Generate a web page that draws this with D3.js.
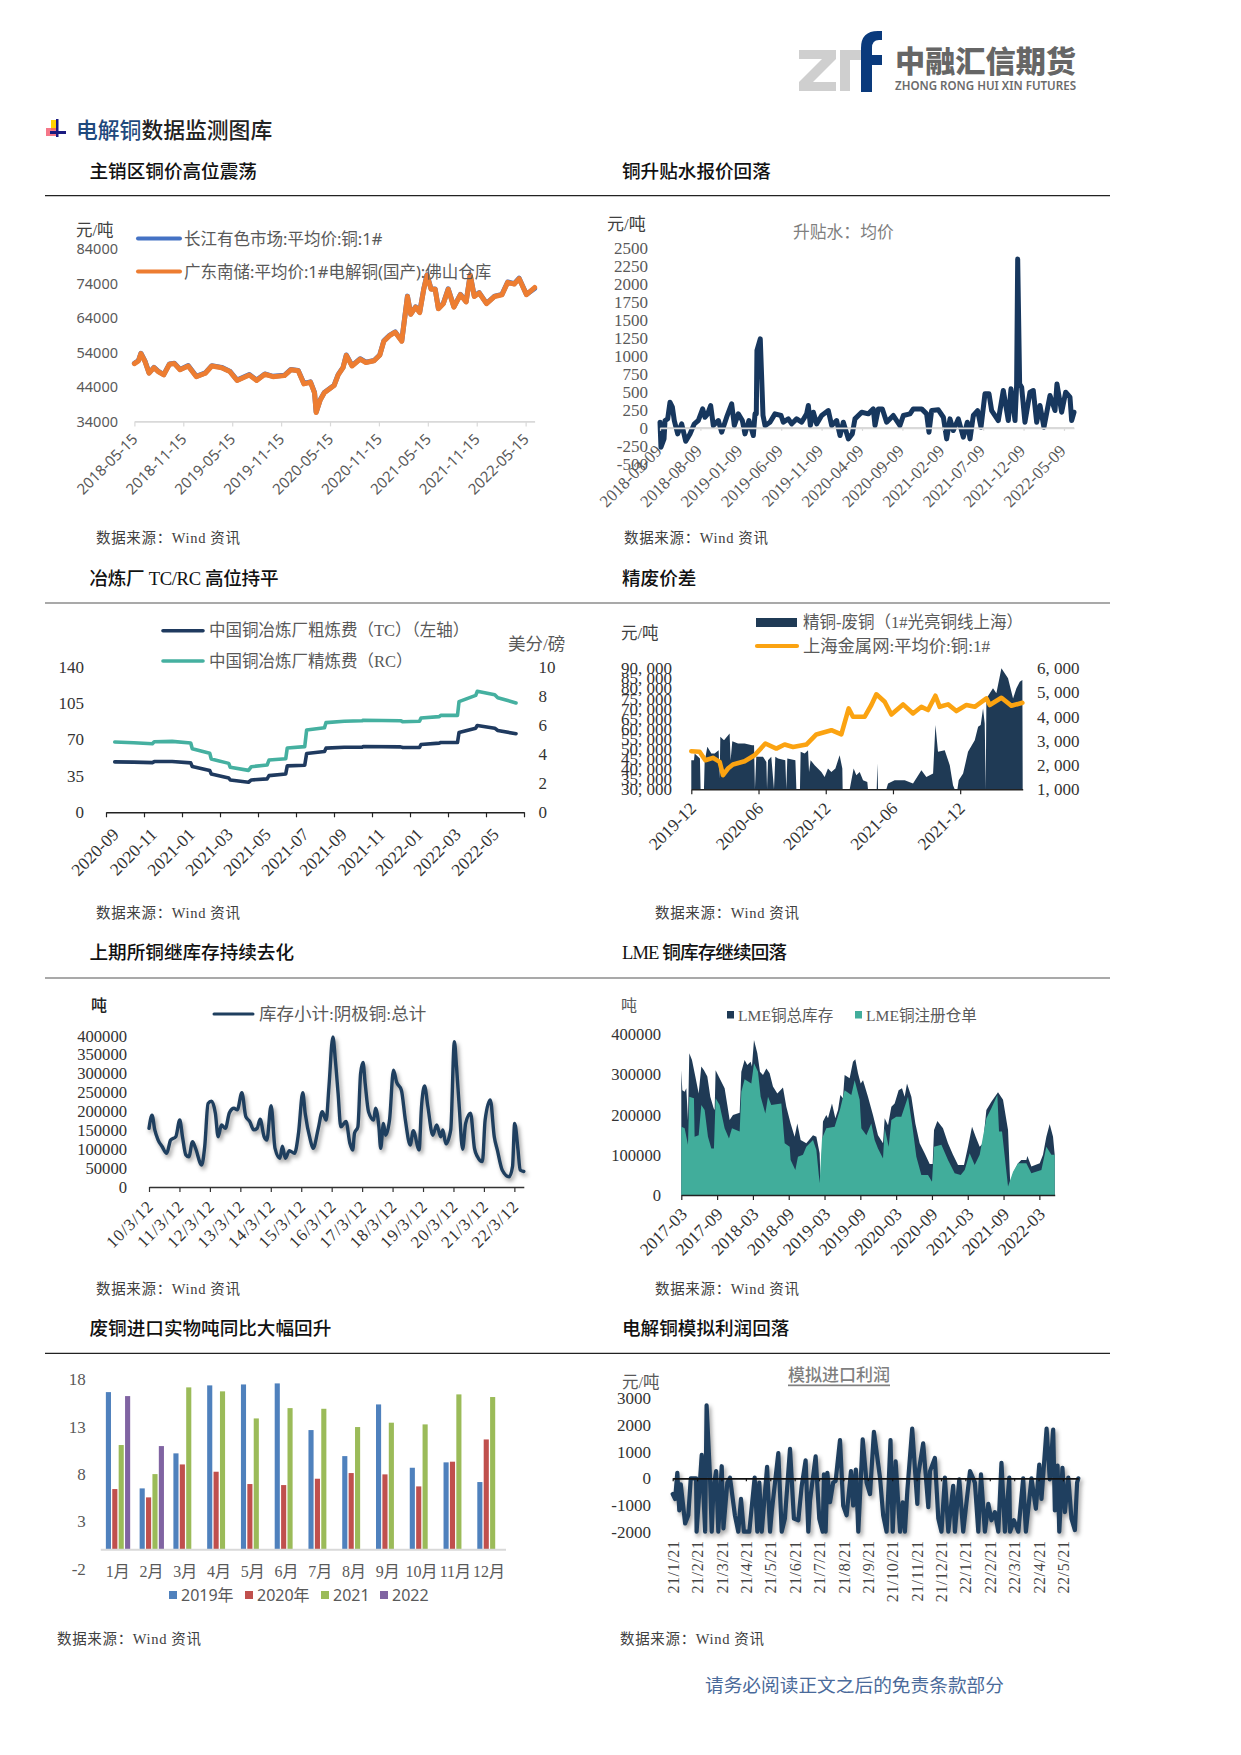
<!DOCTYPE html>
<html><head><meta charset="utf-8">
<script src="https://cdn.jsdelivr.net/npm/d3@7"></script>
<style>
html,body{margin:0;padding:0;background:#fff}
svg{display:block}
text{font-family:"Liberation Serif","Noto Sans CJK SC",serif}
text.sans{font-family:"Noto Sans","Noto Sans CJK SC",sans-serif}
.shadow{filter:drop-shadow(2px 3px 2px rgba(0,0,0,.38))}
</style></head><body>
<div id="chart"></div>
<script>
// ---------- Chart 1 ----------
const priceMonths=[0,.5,.8,1.3,1.8,2.4,2.9,3.6,4.3,4.9,5.6,6.6,7.6,8.7,9.5,10.7,11.7,12.6,14.1,15,16,17,18.4,19.2,20.1,20.8,21.6,22.1,22.3,22.8,23.3,24.5,25,25.6,26,26.7,27.7,28.4,29.4,30.1,30.6,31.3,32,32.8,33.5,33.9,34.5,35,35.5,35.9,36.4,36.9,37.3,37.9,38.5,39.2,40,40.7,41.2,41.7,42.3,43.2,44.2,45.1,45.8,46.6,47.2,48.1,49.1];
const priceGuangdong=[50800,51600,53700,51400,48000,49600,48500,47500,50600,50800,49000,50100,47000,48000,50100,49600,48500,45900,47500,45900,47700,47000,47300,49000,48700,44900,45400,42300,36600,40200,42300,44400,47500,49600,53200,50100,52100,51100,51600,53200,57300,58900,59900,57300,70300,65100,67200,65600,72400,76500,72400,72400,66700,68200,72400,67200,70800,68700,76500,70300,71300,68200,70300,70800,74400,73900,75500,70800,72900];
const priceChangjiang=[50900,51700,53800,51500,48100,49700,48600,47600,50700,50900,49100,50200,47100,48100,50200,49700,48600,46000,47600,46000,47800,47100,47400,49100,48800,45000,45500,42400,36700,40300,42400,44500,47600,49700,53300,50200,52200,51200,51700,53300,57400,59000,60000,57400,70400,65200,67300,65700,72500,76600,72500,72500,66800,68300,72500,67300,70900,68800,76600,70400,71400,68300,70400,70900,74500,74000,75600,70900,72600];
const priceTicks=[0,6,12,18,24,30,36,42,48];
const priceTickLabels=["2018-05-15","2018-11-15","2019-05-15","2019-11-15","2020-05-15","2020-11-15","2021-05-15","2021-11-15","2022-05-15"];
const priceYTicks=[34000,44000,54000,64000,74000,84000];
// ---------- Chart 2 ----------
const premiumMonths=[0,.12,.5,.62,.95,1.24,1.53,1.77,2.19,2.68,3.18,3.71,4.25,4.74,5.28,5.57,5.9,6.27,6.6,7.22,7.63,8.25,8.87,9.2,9.69,10.19,10.52,11.01,11.55,11.76,11.92,12,12.41,12.75,13,13.61,14.23,14.98,15.26,15.88,16.3,16.91,17.53,18.15,18.36,18.61,18.98,19.39,20.01,20.83,21.25,21.86,22.28,22.69,23.31,23.8,24.13,24.96,25.78,26.4,26.61,27.02,27.52,28.05,28.88,29.7,30.12,30.94,31.35,32.38,33,33.29,33.62,34.45,35.07,35.48,35.89,36.3,36.92,37.54,38.04,38.37,38.78,39.31,39.73,40.22,40.72,41.05,41.87,42.49,43.11,43.44,43.94,44.14,44.27,44.51,44.76,45.17,45.79,46.2,46.62,47.03,47.52,48.27,48.89,49.13,49.71,50.21,50.74,50.95,51.24];
const premiumValues=[79,-269,-153,102,125,357,288,102,-84,56,-186,-84,56,102,264,148,195,311,32,102,-60,148,334,32,195,102,-84,102,-107,195,195,1076,1239,172,32,79,195,172,79,125,56,125,79,195,311,32,218,56,172,241,32,102,-107,79,-153,-84,125,218,195,264,32,264,264,79,172,32,172,195,264,264,195,-60,241,251,148,-153,125,-37,125,-130,79,-153,172,241,9,473,473,241,102,520,102,543,102,600,2348,612,566,79,496,520,79,311,9,450,241,612,218,496,427,102,218];
const premiumTicks=[0,5,10,15,20,25,30,35,40,45,50];
const premiumTickLabels=["2018-03-09","2018-08-09","2019-01-09","2019-06-09","2019-11-09","2020-04-09","2020-09-09","2021-02-09","2021-07-09","2021-12-09","2022-05-09"];
const premiumYTicks=[-500,-250,0,250,500,750,1000,1250,1500,1750,2000,2250,2500];
// ---------- Chart 3 ----------
const tcMonths=[.46,1.46,2.44,2.54,3.48,4.46,4.54,5.46,5.54,6.46,6.54,7.5,7.65,8.48,8.58,9.46,9.54,10.46,10.56,11.5,11.58,12.54,13.48,13.54,15.5,15.62,16.5,16.58,17.54,17.62,18.5,18.58,19.46,19.54,20.46,20.62,21.58];
const tcValues=[48.5,48.2,47.8,48.8,48.8,47.5,44,40.1,36.9,33,31.1,28.9,31.1,32.1,35.3,36.9,44.6,45.3,56.5,58.4,61.7,62.6,62.6,63.3,62.9,62.3,62.3,65.2,66.5,67.1,67.1,76.7,80.9,83.5,80.9,78.7,75.5];
const rcValues=[4.83,4.78,4.71,4.85,4.87,4.76,4.37,4.05,3.66,3.36,3.09,2.88,3.13,3.25,3.59,3.68,4.42,4.51,5.65,5.81,6.16,6.25,6.29,6.32,6.29,6.22,6.25,6.48,6.57,6.66,6.66,7.6,8.03,8.31,8.08,7.87,7.51];
const tcTicks=[0,2,4,6,8,10,12,14,16,18,20,22];
const tcTickLabels=["2020-09","2020-11","2021-01","2021-03","2021-05","2021-07","2021-09","2021-11","2022-01","2022-03","2022-05",""];
const tcYTicks=[0,35,70,105,140];
const rcYTicks=[0,2,4,6,8,10];
// ---------- Chart 4 ----------
const spreadMonths=[0,.24,.3,.77,.83,1.13,1.19,1.43,1.79,2.08,2.44,2.53,2.59,2.92,3.42,3.51,3.66,4.17,4.76,5.42,5.6,5.68,5.8,6.4,6.7,6.76,6.85,7.14,7.38,7.5,7.74,8.39,8.48,8.57,9.29,9.38,9.7,9.76,10.12,10.42,10.51,10.65,11.01,11.61,11.9,12.2,12.5,12.86,13.24,13.48,13.51,14.14,14.29,14.49,14.73,15.03,15.33,15.71,15.77,16.55,16.61,16.67,17.41,17.56,18.15,19.05,19.79,20.54,20.98,21.58,21.79,22.02,22.62,23.07,23.36,23.51,23.75,23.87,24.26,24.7,25.3,25.6,25.83,26.04,26.19,26.28,26.34,26.93,27.23,27.68,28.27,28.72,29.02,29.32,29.55,29.58];
const spreadValues=[2201,2201,2478,2270,1000,1000,2132,2754,2478,2478,2616,1442,3168,3030,3306,2201,2989,2892,2892,2823,2823,1000,2340,2340,2132,1000,2201,2340,1000,2340,2270,2201,1000,2270,2201,1000,1000,2547,2478,2616,1718,2201,1994,1718,1511,1856,1718,1856,2409,1856,1000,1000,1373,1856,1580,1718,1373,1304,1000,1000,2063,1000,1000,1235,1373,1373,1235,1787,1511,1649,3652,2547,2616,1994,1166,1000,1000,1373,1649,2547,3030,3582,3652,4342,3721,1000,4756,5171,4964,6000,5585,4756,5171,5447,5516,1000];
const shMonths=[0,.74,1.25,1.93,2.53,2.83,3.27,3.72,4.76,5.65,6.61,7.59,8.33,9.08,10.27,11.16,12.5,13.39,14.05,14.43,15.48,16.07,16.52,17.26,17.86,18.9,19.79,20.54,21.13,21.79,22.17,22.92,23.66,24.55,25.3,26.34,26.64,27.68,28.57,29.55];
const shValues=[48900,48600,44400,45600,43600,37000,40300,42300,43900,46900,52700,50200,52200,51000,52200,57200,59300,57200,70100,66000,66000,71800,77100,73400,67100,72100,67600,70900,69300,76400,70900,72100,68800,71800,70900,75100,71800,75400,71400,72900];
const spreadTicks=[0,6,12,18,24];
const spreadTickLabels=["2019-12","2020-06","2020-12","2021-06","2021-12"];
const spreadLeftTicks=[30000,35000,40000,45000,50000,55000,60000,65000,70000,75000,80000,85000,90000];
const spreadRightTicks=[1000,2000,3000,4000,5000,6000];
// ---------- Chart 5 ----------
const shfeYears=[0,.1,.19,.3,.43,.58,.71,.88,1.01,1.1,1.21,1.31,1.43,1.53,1.73,1.83,1.94,2.05,2.18,2.27,2.38,2.51,2.64,2.79,2.9,3.05,3.18,3.31,3.44,3.55,3.65,3.78,3.87,4.01,4.14,4.3,4.38,4.48,4.61,4.78,4.91,5.05,5.13,5.3,5.39,5.56,5.69,5.82,5.91,6.04,6.12,6.21,6.3,6.47,6.6,6.69,6.75,6.86,6.95,7.03,7.1,7.21,7.38,7.44,7.55,7.61,7.7,7.77,7.9,8.03,8.13,8.29,8.42,8.58,8.68,8.87,8.95,9.05,9.16,9.32,9.45,9.58,9.65,9.75,9.91,10.03,10.1,10.19,10.3,10.4,10.56,10.69,10.79,10.95,11.04,11.21,11.34,11.44,11.6,11.83,11.94,12.01,12.12,12.19,12.31];
const shfeStock=[155000,190000,151000,124000,107000,89000,124000,133000,177000,133000,85000,80000,120000,102000,58000,107000,221000,227000,195000,133000,164000,155000,196000,208000,204000,249000,186000,173000,151000,155000,179000,133000,124000,215000,102000,76000,108000,76000,96000,89000,142000,249000,195000,124000,102000,155000,199000,177000,265000,397000,336000,248000,159000,173000,115000,98000,142000,159000,300000,329000,274000,199000,177000,208000,159000,102000,168000,137000,177000,309000,278000,256000,177000,111000,149000,98000,212000,267000,212000,137000,164000,133000,151000,114000,151000,384000,318000,212000,100000,168000,195000,102000,80000,67000,177000,230000,133000,98000,45000,27000,54000,168000,98000,45000,41000];
const shfeTicks=[0,1,2,3,4,5,6,7,8,9,10,11,12];
const shfeTickLabels=["10/3/12","11/3/12","12/3/12","13/3/12","14/3/12","15/3/12","16/3/12","17/3/12","18/3/12","19/3/12","20/3/12","21/3/12","22/3/12"];
const shfeYTicks=[0,50000,100000,150000,200000,250000,300000,350000,400000];
// ---------- Chart 6 ----------
const lmeTotalMonths=[0,.17,.56,.84,1.12,1.34,1.79,2.35,2.91,3.35,3.8,4.36,4.86,5.42,5.59,5.75,6.42,7.26,7.71,8.1,8.66,9.78,10.06,10.61,11.06,11.62,11.84,12.18,12.74,13.18,13.69,14.25,14.8,15.36,16.09,17.04,17.6,18.32,18.99,19.44,20,20.95,22.07,22.63,23.18,23.35,23.74,24.3,24.58,25.25,25.81,26.26,26.65,27.09,27.37,28.21,28.77,29.16,29.61,30.06,30.45,31.28,32.12,32.96,33.8,34.08,34.64,35.2,35.75,36.42,36.98,37.43,37.82,38.55,39.22,39.94,40.78,41.62,42.12,42.35,42.91,43.85,44.69,45.53,46.37,47.37,48.04,48.72,49.33,50,50.56,51.12,51.96,53.07,53.91,54.75,55.14,55.59,56.42,56.98,57.82,57.99,58.66,60.06,60.61,61.17,61.73,62.29,62.57];
const lmeTotal=[311000,261000,257000,266000,187000,353000,336000,295000,253000,320000,311000,295000,245000,216000,212000,311000,291000,266000,224000,187000,199000,205000,307000,336000,324000,332000,320000,386000,353000,307000,299000,315000,303000,270000,253000,268000,220000,178000,145000,178000,137000,129000,149000,145000,104000,25000,183000,199000,191000,228000,191000,212000,249000,241000,299000,291000,332000,338000,303000,278000,286000,245000,199000,149000,129000,191000,174000,220000,228000,261000,266000,245000,278000,245000,178000,129000,104000,77000,77000,162000,184000,166000,129000,100000,75000,75000,120000,170000,145000,120000,129000,212000,232000,256000,237000,162000,21000,54000,79000,87000,87000,97000,71000,79000,100000,145000,177000,145000,100000];
const lmeRegMonths=[0,.56,1.12,1.34,2.12,2.23,2.91,3.35,3.91,4.47,5.03,5.47,5.75,6.42,7.26,7.99,8.49,9.78,10.06,10.61,11.73,12.18,12.85,13.3,14.08,14.53,15.08,16.76,17.32,18.16,18.32,19.11,19.55,20.39,20.95,22.07,22.63,23.18,23.58,24.3,25.7,26.65,27.37,28.49,29.05,29.89,30.17,31.01,31.84,32.4,32.96,33.8,34.08,34.75,35.2,36.03,36.87,37.99,38.66,39.39,40.22,41.34,42.01,42.35,43.58,44.69,45.81,46.82,47.49,48.32,49.16,50,51.12,51.96,52.96,53.24,53.74,54.75,55.59,56.42,57.82,58.66,60.34,61.17,62.01,62.57];
const lmeRegistered=[170000,166000,125000,245000,241000,145000,149000,224000,212000,145000,116000,116000,241000,224000,166000,141000,166000,158000,257000,288000,278000,328000,307000,245000,203000,245000,224000,228000,129000,120000,87000,62000,95000,100000,120000,137000,112000,29000,141000,166000,170000,216000,261000,249000,286000,237000,166000,149000,178000,137000,116000,91000,166000,120000,187000,195000,195000,245000,178000,95000,50000,50000,33000,120000,125000,87000,54000,50000,62000,104000,75000,100000,191000,216000,249000,158000,158000,21000,58000,79000,79000,54000,62000,120000,100000,100000];
const lmeTicks=[0,6,12,18,24,30,36,42,48,54,60];
const lmeTickLabels=["2017-03","2017-09","2018-03","2018-09","2019-03","2019-09","2020-03","2020-09","2021-03","2021-09","2022-03"];
const lmeYTicks=[0,100000,200000,300000,400000];
// ---------- Chart 7 ----------
const scrapMonths=["1月","2月","3月","4月","5月","6月","7月","8月","9月","10月","11月","12月"];
const scrapSeriesNames=["2019年","2020年","2021","2022"];
const scrap2019=[16.65,6.48,10.18,17.36,17.46,17.57,12.64,9.89,15.35,8.66,9.23,7.15];
const scrap2020=[6.41,5.53,9.01,8.24,6.94,6.83,7.5,8.1,7.96,6.69,9.3,11.65];
const scrap2021=[11.06,7.99,17.15,16.73,13.87,14.96,14.89,12.96,13.42,13.24,16.41,16.13];
const scrap2022=[16.23,10.95];
const scrapYTicks=[-2,3,8,13,18];
// ---------- Chart 8 ----------
const profitMonths=[0,.1,.19,.27,.33,.51,.64,.74,.96,.98,1.19,1.33,1.39,1.53,1.6,1.67,1.78,1.87,2.01,2.08,2.24,2.35,2.55,2.69,2.8,2.92,3.14,3.36,3.47,3.55,3.65,3.87,3.99,4.06,4.33,4.47,4.6,4.81,4.97,5.15,5.29,5.45,5.56,5.63,5.86,6.01,6.15,6.2,6.27,6.34,6.45,6.58,6.68,6.86,6.99,7.13,7.31,7.4,7.51,7.61,7.79,7.95,8.09,8.25,8.5,8.63,8.77,8.93,9.02,9.14,9.32,9.43,9.52,9.62,9.82,10.03,10.07,10.27,10.48,10.55,10.75,10.89,11.02,11.16,11.3,11.5,11.57,11.75,11.91,12.19,12.39,12.53,12.64,12.8,12.94,13.07,13.21,13.35,13.48,13.62,13.8,13.83,13.99,14.17,14.37,14.48,14.71,14.89,15.03,15.12,15.33,15.46,15.6,15.67,15.78,15.85,15.98,16.08,16.22,16.35,16.49,16.58,16.63];
const profitValues=[-589,-773,209,-1202,-221,-1693,-1387,0,0,-2000,883,-2000,2738,25,-2000,-405,270,-2000,454,-1877,-160,25,-1387,-2000,-773,-2000,-2000,25,-2000,-160,-2000,429,-2000,-1264,945,-2000,-1509,1104,-1509,-1571,-282,675,-2000,-834,822,-1509,-2000,147,-2000,209,-896,-160,-98,1436,-1018,-1387,270,-1018,331,-2000,1460,-160,-589,1742,25,-1387,-2000,1436,-2000,638,-2000,-896,-2000,-466,1865,-957,147,1313,-1080,270,761,-1509,-2000,25,-2000,-282,-2000,-37,-2000,270,-160,-2000,147,-2000,-957,-1571,-1264,-2000,577,-2000,25,-2000,-1571,-2000,0,-2000,0,-1141,515,-773,1865,-37,1828,-1202,479,-2000,393,-1264,25,-1509,-1939,-160,0];
const profitTicks=[0,1,2,3,4,5,6,7,8,9,10,11,12,13,14,15,16];
const profitTickLabels=["21/1/21","21/2/21","21/3/21","21/4/21","21/5/21","21/6/21","21/7/21","21/8/21","21/9/21","21/10/21","21/11/21","21/12/21","22/1/21","22/2/21","22/3/21","22/4/21","22/5/21"];
const profitYTicks=[-2000,-1000,0,1000,2000,3000];
// ---------- Text ----------
const sectionTitles=[["主销区铜价高位震荡","铜升贴水报价回落"],["冶炼厂 TC/RC 高位持平","精废价差"],["上期所铜继库存持续去化","LME 铜库存继续回落"],["废铜进口实物吨同比大幅回升","电解铜模拟利润回落"]];
const sourceText="数据来源\uFF1AWind 资讯";

const W=1241,H=1755;
const SANS='"Noto Sans","Noto Sans CJK SC",sans-serif', SERIF='"Liberation Serif","Noto Sans CJK SC",serif';
const svg=d3.select("#chart").append("svg").attr("width",W).attr("height",H).attr("viewBox",[0,0,W,H]);
const T=(x,y,s,o={})=>{const t=svg.append("text").attr("x",x).attr("y",y).text(s)
  .attr("font-size",o.size||16.5).attr("fill",o.fill||"#595959").attr("text-anchor",o.anchor||"start")
  .attr("dominant-baseline",o.base||"auto");
  if(o.weight)t.attr("font-weight",o.weight); if(o.cls)t.attr("class",o.cls); if(o.deco)t.attr("text-decoration",o.deco); if(o.ls)t.attr("letter-spacing",o.ls); return t;};

// Logo
const logo=svg.append("g");
logo.append("path").attr("fill","#cfcfcf").attr("d","M799 50H836V59L813 82H836V91H799V82L822 59H799Z");
logo.append("path").attr("fill","#cfcfcf").attr("d","M840 91V50H861V60H850V91Z");
logo.append("path").attr("fill","#0a3a7c").attr("d","M861 92V48Q861 31 878 31H882V40H879Q872 40 872 48V55H882V65H872V92Z");
T(895,72,"中融汇信期货",{size:30,fill:"#666",weight:900,cls:"sans"}).attr("textLength",181).attr("lengthAdjust","spacingAndGlyphs");
T(895,90,"ZHONG RONG HUI XIN FUTURES",{size:13,fill:"#6b6b6b",weight:600,cls:"sans"}).attr("textLength",181).attr("lengthAdjust","spacingAndGlyphs");

// Heading + icon
svg.append("rect").attr("x",51).attr("y",120).attr("width",6).attr("height",10).attr("fill","#ffd200");
svg.append("rect").attr("x",46).attr("y",128).attr("width",12).attr("height",8).attr("fill","#f2556b").attr("opacity",.8);
svg.append("rect").attr("x",56).attr("y",119).attr("width",2.5).attr("height",18).attr("fill","#1a1a80");
svg.append("rect").attr("x",50).attr("y",131).attr("width",16).attr("height",3).attr("fill","#1a1a80");
T(76,137.6,"电解铜",{size:21.8,fill:"#1F497D",weight:500});
T(141.4,137.6,"数据监测图库",{size:21.8,fill:"#222",weight:500});

// Section titles + rules
const titleBase=[177.6,585,959,1335], ruleY=[195.7,603,978,1353.3], sourceBase=[542.5,917.5,1293.5,1643.5];
const sourceX=[[96,624],[96,655],[96,655],[57,620]];
const titleLengths=[[null,null],[189,null],[null,165],[null,null]];
titleBase.forEach((b,i)=>{
  [[89.5,0],[622,1]].forEach(([tx,c])=>{
    const tt=T(tx,b,sectionTitles[i][c],{size:18.6,fill:"#111",weight:500});
    if(titleLengths[i][c])tt.attr("textLength",titleLengths[i][c]);
  });
  svg.append("line").attr("x1",45).attr("x2",1110).attr("y1",ruleY[i]).attr("y2",ruleY[i]).attr("stroke",i==0||i==3?"#222":"#555").attr("stroke-width",1.2);
  T(sourceX[i][0],sourceBase[i],sourceText,{size:14.5,fill:"#404040"}).attr("textLength",144);
  T(sourceX[i][1],sourceBase[i],sourceText,{size:14.5,fill:"#404040"}).attr("textLength",144);
});
T(705,1692,"请务必阅读正文之后的免责条款部分",{size:18.7,fill:"#4a6a9a"});

// Helpers
function bottomAxis(scale,y,ticks,labels,o){
  const g=svg.append("g").attr("transform",`translate(0,${y})`);
  const ax=d3.axisBottom(scale).tickValues(ticks).tickFormat((d,i)=>labels[i]).tickSize(o.tick||5).tickSizeOuter(0);
  g.call(ax);
  g.select(".domain").attr("stroke",o.color||"#222").attr("stroke-width",o.sw||1.6);
  g.selectAll(".tick line").attr("stroke",o.color||"#222").attr("stroke-width",o.tw||1.2);
  g.selectAll(".tick text").attr("font-size",o.size||17).attr("fill",o.fill||"#333")
    .style("font-family",o.sans?SANS:SERIF)
    .attr("text-anchor","end").attr("letter-spacing",o.ls||0)
    .attr("transform",`translate(${o.dx||0},${o.dy||10}) rotate(${o.rot===undefined?-45:o.rot})`)
    .attr("x",0).attr("y",0).attr("dy",o.tdy||"0.35em");
  return g;
}
function sideAxis(scale,x,ticks,o){
  const g=svg.append("g").attr("transform",`translate(${x},0)`);
  const ax=(o.right?d3.axisRight(scale):d3.axisLeft(scale)).tickValues(ticks).tickSize(0).tickPadding(0).tickFormat(o.fmt||(d=>d));
  g.call(ax); g.select(".domain").remove();
  g.selectAll(".tick text").attr("font-size",o.size||17).attr("fill",o.fill||"#333")
    .style("font-family",o.sans?SANS:SERIF);
  return g;
}
function legendLine(x1,x2,y,color,sw,label,o={}){
  svg.append("line").attr("x1",x1).attr("x2",x2).attr("y1",y).attr("y2",y).attr("stroke",color).attr("stroke-width",sw).attr("stroke-linecap","round");
  T(x2+(o.gap||4),y,label,{size:o.size||16.5,base:"central",fill:o.fill||"#595959",cls:o.cls});
}
function drawLine(xs,ys,x,y,color,sw,o={}){
  const idx=d3.range(xs.length);
  const p=svg.append("path").datum(idx).attr("fill","none").attr("stroke",color).attr("stroke-width",sw)
    .attr("stroke-linejoin","round").attr("stroke-linecap","round")
    .attr("d",d3.line().x(i=>x(xs[i])).y(i=>y(ys[i])).curve(o.curve||d3.curveLinear));
  if(o.cls)p.attr("class",o.cls);
  return p;
}
function drawArea(xs,ys,x,y,base,color){
  const idx=d3.range(xs.length);
  svg.append("path").datum(idx).attr("fill",color)
    .attr("d",d3.area().x(i=>x(xs[i])).y0(y(base)).y1(i=>y(ys[i])));
}

// Chart 1
{
  const x=d3.scaleLinear().domain([0,49.1]).range([134.4,534.6]);
  const y=d3.scaleLinear().domain([34000,84000]).range([421.4,249.3]);
  drawLine(priceMonths,priceChangjiang,x,y,"#4472C4",5);
  drawLine(priceMonths,priceGuangdong,x,y,"#ED7D31",5);
  bottomAxis(x,421.4,priceTicks,priceTickLabels,{color:"#d9d9d9",fill:"#595959",size:15,sans:true,dx:0,dy:15});
  sideAxis(y,118,priceYTicks,{size:14.5,fill:"#595959",sans:true});
  T(76,236,"元/吨",{size:16.5,fill:"#404040"});
  legendLine(138,180,238.6,"#4472C4",4,"长江有色市场:平均价:铜:1#",{cls:"sans",size:16.5});
  legendLine(138,180,271.4,"#ED7D31",4,"广东南储:平均价:1#电解铜(国产):佛山仓库",{cls:"sans",size:16.5});
}
// Chart 2
{
  const x=d3.scaleLinear().domain([0,51.24]).range([660,1074]);
  const y=d3.scaleLinear().domain([-500,2500]).range([463.8,248.2]);
  svg.append("line").attr("x1",x(0)).attr("x2",x(51.24)).attr("y1",y(0)).attr("y2",y(0)).attr("stroke","#d9d9d9").attr("stroke-width",1.6);
  drawLine(premiumMonths,premiumValues,x,y,"#17375E",5);
  bottomAxis(x,y(0),premiumTicks,premiumTickLabels,{color:"#d9d9d9",fill:"#595959",size:17,dx:-2,dy:20,tick:3});
  sideAxis(y,648,premiumYTicks,{size:17,fill:"#595959"});
  T(607,230,"元/吨",{size:17,fill:"#404040"});
  T(793,232,"升贴水\uFF1A均价",{size:16.8,fill:"#7f7f7f",base:"central"});
}
// Chart 3
{
  const x=d3.scaleLinear().domain([0,22]).range([106,524]);
  const y=d3.scaleLinear().domain([0,140]).range([812.3,666.7]);
  const yr=d3.scaleLinear().domain([0,10]).range([812.3,666.7]);
  drawLine(tcMonths,tcValues,x,y,"#1F3A5F",3.6);
  drawLine(tcMonths,rcValues,x,yr,"#45B0A0",3.6);
  bottomAxis(x,812.3,tcTicks,tcTickLabels,{color:"#222",size:17.5,fill:"#333",dx:9,dy:19});
  sideAxis(y,84,tcYTicks,{size:17});
  sideAxis(yr,538.5,rcYTicks,{right:true,size:17});
  legendLine(163,203,630.7,"#1F3A5F",3.6,"中国铜冶炼厂粗炼费\uFF08TC\uFF09\uFF08左轴\uFF09",{gap:6});
  legendLine(163,203,661,"#45B0A0",3.6,"中国铜冶炼厂精炼费\uFF08RC\uFF09",{gap:6});
  T(508,644,"美分/磅",{size:17.5,base:"central"});
}
// Chart 4
{
  const x=d3.scaleLinear().domain([0,29.58]).range([691.3,1022.7]);
  const y=d3.scaleLinear().domain([30000,90000]).range([789.3,668.3]);
  const yr=d3.scaleLinear().domain([1000,6000]).range([789.3,668.3]);
  drawArea(spreadMonths,spreadValues,x,yr,1000,"#1F3A55");
  drawLine(shMonths,shValues,x,y,"#FBA311",4.6);
  bottomAxis(x,789.3,spreadTicks,spreadTickLabels,{color:"#222",size:17.5,dx:1,dy:16});
  const cm=d=>{const s=String(d);return s.slice(0,-3)+", "+s.slice(-3);};
  sideAxis(y,672,spreadLeftTicks,{size:17,fmt:cm});
  sideAxis(yr,1037,spreadRightTicks,{right:true,size:17,fmt:cm});
  svg.append("rect").attr("x",756).attr("y",618).attr("width",41).attr("height",9).attr("fill","#1F3A55");
  T(803,622.5,"精铜-废铜\uFF081#光亮铜线上海\uFF09",{base:"central",size:16.5});
  legendLine(757,797,646,"#FBA311",4.2,"上海金属网:平均价:铜:1#",{gap:6,size:17.3});
  T(621,633,"元/吨",{size:16.5,fill:"#404040",base:"central"});
}
// Chart 5
{
  const x=d3.scaleLinear().domain([0,12.31]).range([149,523.8]);
  const y=d3.scaleLinear().domain([0,400000]).range([1187,1035.7]);
  drawLine(shfeYears,shfeStock,x,y,"#1F3F5F",3.4,{curve:d3.curveMonotoneX,cls:"shadow"});
  bottomAxis(x,1187,shfeTicks,shfeTickLabels,{color:"#333",size:17,ls:1,dx:1,dy:16});
  sideAxis(y,127,shfeYTicks,{size:16.6});
  T(91,1005,"吨",{size:16,fill:"#222",base:"central",weight:500});
  legendLine(214,253,1014,"#1F3F5F",3,"库存小计:阴极铜:总计",{gap:6,size:17.5});
}
// Chart 6
{
  const x=d3.scaleLinear().domain([0,62.57]).range([681.3,1054.7]);
  const y=d3.scaleLinear().domain([0,400000]).range([1195,1034.4]);
  drawArea(lmeTotalMonths,lmeTotal,x,y,0,"#1F3A55");
  drawArea(lmeRegMonths,lmeRegistered,x,y,0,"#41AD9B");
  bottomAxis(x,1195,lmeTicks,lmeTickLabels,{color:"#222",size:17.5,dx:2,dy:16});
  sideAxis(y,661,lmeYTicks,{size:16.6});
  T(621,1005.7,"吨",{size:16,base:"central"});
  svg.append("rect").attr("x",727).attr("y",1011).attr("width",7).attr("height",7.5).attr("fill","#1F3A55");
  T(738,1015,"LME铜总库存",{base:"central",size:15.6});
  svg.append("rect").attr("x",855).attr("y",1011).attr("width",7).attr("height",7.5).attr("fill","#41AD9B");
  T(866,1015,"LME铜注册仓单",{base:"central",size:15.6});
}
// Chart 7
{
  const x0=d3.scaleBand().domain(scrapMonths).range([100.8,506]);
  const y=d3.scaleLinear().domain([-2,18]).range([1320+746/3,1320+178/3]);
  const series=[scrap2019,scrap2020,scrap2021,scrap2022];
  const colors=["#4F81BD","#C0504D","#9BBB59","#8064A2"];
  const x1=d3.scaleBand().domain(d3.range(4)).range([x0.bandwidth()*.15,x0.bandwidth()*.87]).paddingInner(.2);
  series.forEach((vals,si)=>{
    svg.append("g").selectAll("rect").data(vals).join("rect")
      .attr("x",(d,i)=>x0(scrapMonths[i])+x1(si)).attr("width",x1.bandwidth())
      .attr("y",d=>y(d)).attr("height",d=>y(0)-y(d)).attr("fill",colors[si]);
  });
  svg.append("line").attr("x1",100.8).attr("x2",506).attr("y1",y(0)).attr("y2",y(0)).attr("stroke","#d9d9d9").attr("stroke-width",2);
  sideAxis(y,85.8,scrapYTicks,{size:17,fill:"#595959"});
  scrapMonths.forEach(m=>T(x0(m)+x0.bandwidth()/2,1571,m,{anchor:"middle",base:"central",size:16}));
  const lx=[169,245,321,380];
  scrapSeriesNames.forEach((n,i)=>{
    svg.append("rect").attr("x",lx[i]).attr("y",1591).attr("width",8).attr("height",8).attr("fill",colors[i]);
    T(lx[i]+12,1595,n,{base:"central",size:16,cls:"sans"});
  });
}
// Chart 8
{
  const x=d3.scaleLinear().domain([0,16.63]).range([672.7,1078.3]);
  const y=d3.scaleLinear().domain([-2000,3000]).range([1531.7,1398.3]);
  drawLine(profitMonths,profitValues,x,y,"#1F3F5F",4.2,{cls:"shadow"});
  const g=bottomAxis(x,y(0),profitTicks,profitTickLabels,{color:"#111",tick:3,size:16,fill:"#444",rot:-90,ls:.6,dy:0,dx:0});
  g.selectAll(".tick text").attr("transform",`translate(0,${1540.5-y(0)}) rotate(-90)`);
  sideAxis(y,651,profitYTicks,{size:17});
  T(622,1382,"元/吨",{size:16.5,base:"central"});
  T(788,1375,"模拟进口利润",{size:17,fill:"#7f7f7f",base:"central",deco:"underline",weight:500});
}
</script>
</body></html>
